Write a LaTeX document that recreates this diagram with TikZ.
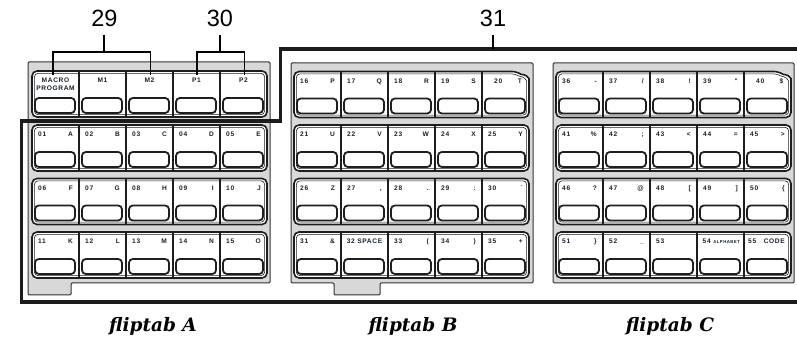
\documentclass[tikz,border=0pt]{standalone}
\usepackage{fontspec}
\newfontfamily\keyfont[LetterSpace=10]{Liberation Sans}
\newfontfamily\callfont{Liberation Sans}
\newfontfamily\tabfont{DejaVu Serif}
\definecolor{panelgray}{HTML}{D8D8D8}
\definecolor{panelline}{HTML}{333333}
\definecolor{keyline}{HTML}{1E1E1E}
\definecolor{keytxt}{HTML}{18222C}
\definecolor{frm}{HTML}{1C1C1C}

% a row of five keys: #1 left x, #2 top y
\newcommand\drawrow[2]{%
  \draw[keyrow] (#1,#2) rectangle ({#1+235},{#2+46});
  \draw[keyinner] ({#1+2.4},{#2+2.4}) rectangle ({#1+232.6},{#2+43.6});
  \foreach \k in {1,...,4}{\draw[keysep] ({#1+\k*47},#2) -- ({#1+\k*47},{#2+46});}
  \foreach \k in {0,...,4}{\draw[keybtn] ({#1+\k*47+3},{#2+27}) rectangle ({#1+\k*47+43},{#2+42});}
}
% same, with a curled top-right corner
\newcommand\drawrowcut[2]{%
  \draw[keyrow] (#1,{#2+23}) |- ({#1+223},#2) [sharp corners]
     .. controls ({#1+228},{#2+3.5}) and ({#1+231},{#2+2}) .. ({#1+235},{#2+7})
     [rounded corners=5pt] |- (#1,{#2+46}) -- cycle;
  \draw[keyinner] ({#1+2.4},{#2+23}) |- ({#1+221.5},{#2+2.4}) [sharp corners]
     .. controls ({#1+226.5},{#2+5.7}) and ({#1+229.5},{#2+4.2}) .. ({#1+232.6},{#2+9.2})
     [rounded corners=3.5pt] |- ({#1+2.4},{#2+43.6}) -- cycle;
  \foreach \k in {1,...,4}{\draw[keysep] ({#1+\k*47},#2) -- ({#1+\k*47},{#2+46});}
  \foreach \k in {0,...,4}{\draw[keybtn] ({#1+\k*47+3},{#2+27}) rectangle ({#1+\k*47+43},{#2+42});}
}
% key label: #1 panel x, #2 column, #3 row top, #4 number, #5 character
\newcommand\kl[5]{%
  \node[keylab,anchor=base west] (n#4) at ({#1+#2*47+6},{#3+11.8}) {#4};
  \node[keylab,anchor=base east] (l#4) at ({#1+#2*47+41},{#3+11.8}) {#5};
}

\begin{document}
\begin{tikzpicture}[x=1pt,y=-1pt,
  panel/.style={fill=panelgray,draw=panelline,line width=1pt,rounded corners=1.2pt},
  keyrow/.style={fill=white,draw=keyline,line width=1.6pt,rounded corners=5pt},
  keyinner/.style={draw=keyline,line width=0.6pt,rounded corners=3.5pt},
  keysep/.style={draw=keyline,line width=1.5pt},
  keybtn/.style={draw=keyline,line width=1.8pt,rounded corners=3.8pt,fill=white},
  keylab/.style={inner sep=0pt,font=\keyfont\bfseries\fontsize{6.6}{8}\selectfont,text=keytxt},
  smalllab/.style={inner sep=0pt,font=\keyfont\bfseries\fontsize{4.3}{5}\selectfont,text=keytxt},
  callout/.style={inner sep=0pt,font=\callfont\fontsize{23.5}{26}\selectfont},
  bracket/.style={draw=black,line width=1.6pt,line join=miter},
  framepath/.style={draw=frm,line width=3.8pt,line join=miter},
  tablab/.style={inner sep=0pt,font=\tabfont\bfseries\itshape\fontsize{18.5}{22}\selectfont},
]
\useasboundingbox (0,0) rectangle (797,344);
\fill[white] (0,0) rectangle (797,344);

% grey fliptab panels
\draw[panel] (28,62) -- (270,62) -- (270,283) -- (71,283) -- (71,295) -- (28,295) -- cycle;
\draw[panel] (291,63) -- (533,63) -- (533,283) -- (380,283) -- (380,295) -- (334,295) -- (334,283) -- (291,283) -- cycle;
\draw[panel] (553,63) rectangle (794,283);

% key rows
\drawrow{32}{71}
\drawrow{32}{125}
\drawrow{32}{178.5}
\drawrow{32}{232}
\drawrowcut{294}{71.5}
\drawrow{294}{125}
\drawrow{294}{178.5}
\drawrow{294}{232}
\drawrowcut{556}{71.5}
\drawrow{556}{125}
\drawrow{556}{178.5}
\drawrow{556}{232}

% fliptab A labels
\node[keylab,align=center,anchor=north] (mp) at (55.5,77.4) {MACRO\\PROGRAM};
\node[keylab,anchor=base] (m1) at (102.5,82.8) {M1};
\node[keylab,anchor=base] (m2) at (149.5,82.8) {M2};
\node[keylab,anchor=base] (p1) at (196.5,82.8) {P1};
\node[keylab,anchor=base] (p2) at (243.5,82.8) {P2};
\kl{32}{0}{125}{01}{A}\kl{32}{1}{125}{02}{B}\kl{32}{2}{125}{03}{C}\kl{32}{3}{125}{04}{D}\kl{32}{4}{125}{05}{E}
\kl{32}{0}{178.5}{06}{F}\kl{32}{1}{178.5}{07}{G}\kl{32}{2}{178.5}{08}{H}\kl{32}{3}{178.5}{09}{I}\kl{32}{4}{178.5}{10}{J}
\kl{32}{0}{232}{11}{K}\kl{32}{1}{232}{12}{L}\kl{32}{2}{232}{13}{M}\kl{32}{3}{232}{14}{N}\kl{32}{4}{232}{15}{O}

% fliptab B labels
\kl{294}{0}{71.5}{16}{P}\kl{294}{1}{71.5}{17}{Q}\kl{294}{2}{71.5}{18}{R}\kl{294}{3}{71.5}{19}{S}
\node[keylab,anchor=base west] (n20) at (494,83.3) {20};
\node[keylab,anchor=base east] (l20) at (522,83.3) {T};
\kl{294}{0}{125}{21}{U}\kl{294}{1}{125}{22}{V}\kl{294}{2}{125}{23}{W}\kl{294}{3}{125}{24}{X}\kl{294}{4}{125}{25}{Y}
\kl{294}{0}{178.5}{26}{Z}\kl{294}{1}{178.5}{27}{,}\kl{294}{2}{178.5}{28}{.}\kl{294}{3}{178.5}{29}{:}\kl{294}{4}{178.5}{30}{´}
\kl{294}{0}{232}{31}{\&}
\node[keylab,anchor=base] (n32) at (364.5,243.8) {32 SPACE};
\kl{294}{2}{232}{33}{(}\kl{294}{3}{232}{34}{)}\kl{294}{4}{232}{35}{+}

% fliptab C labels
\kl{556}{0}{71.5}{36}{-}\kl{556}{1}{71.5}{37}{/}\kl{556}{2}{71.5}{38}{!}\kl{556}{3}{71.5}{39}{"}
\node[keylab,anchor=base west] (n40) at (756,83.3) {40};
\node[keylab,anchor=base east] (l40) at (783.5,83.3) {\$};
\kl{556}{0}{125}{41}{\%}\kl{556}{1}{125}{42}{;}\kl{556}{2}{125}{43}{<}\kl{556}{3}{125}{44}{=}\kl{556}{4}{125}{45}{>}
\kl{556}{0}{178.5}{46}{?}\kl{556}{1}{178.5}{47}{@}\kl{556}{2}{178.5}{48}{[}\kl{556}{3}{178.5}{49}{]}\kl{556}{4}{178.5}{50}{\{}
\kl{556}{0}{232}{51}{\}}\kl{556}{1}{232}{52}{\_}
\node[keylab,anchor=base west] (n53) at (656,243.8) {53};
\node[keylab,anchor=base west] (n54) at (702.5,243.8) {54};
\node[smalllab,anchor=base east] (l54) at (740,243.8) {ALPHABET};
\node[keylab,anchor=base west] (n55) at (748,243.8) {55};
\node[keylab,anchor=base east] (l55) at (785,243.8) {CODE};

% thick frame
\coordinate (fr1) at (800,302);
\coordinate (fr2) at (21.5,302);
\coordinate (fr3) at (21.5,121);
\coordinate (fr4) at (280.5,121);
\coordinate (fr5) at (280.5,49);
\coordinate (fr6) at (800,49);
\draw[framepath] (fr1) -- (fr2) -- (fr3) -- (fr4) -- (fr5) -- (fr6);

% callouts
\node[callout] (t29) at (104.5,18.5) {29};
\node[callout] (t30) at (220,18.5) {30};
\node[callout] (t31) at (493,18.5) {31};
\coordinate (s29) at (104,35);
\coordinate (j29) at (104,52);
\coordinate (a29) at (53,75.5);
\coordinate (b29) at (150.5,75.5);
\draw[bracket] (s29) -- (j29);
\draw[bracket] (a29) |- (j29) -| (b29);
\coordinate (s30) at (220,35);
\coordinate (j30) at (220,52);
\coordinate (a30) at (197,75.5);
\coordinate (b30) at (244.5,75.5);
\draw[bracket] (s30) -- (j30);
\draw[bracket] (a30) |- (j30) -| (b30);
\coordinate (s31) at (493,35);
\coordinate (j31) at (493,49);
\draw[bracket] (s31) -- (j31);

% fliptab names
\node[tablab,anchor=base] (fa) at (153,331) {fliptab A};
\node[tablab,anchor=base] (fb) at (413,331) {fliptab B};
\node[tablab,anchor=base] (fc) at (670,331) {fliptab C};
\end{tikzpicture}
\end{document}
